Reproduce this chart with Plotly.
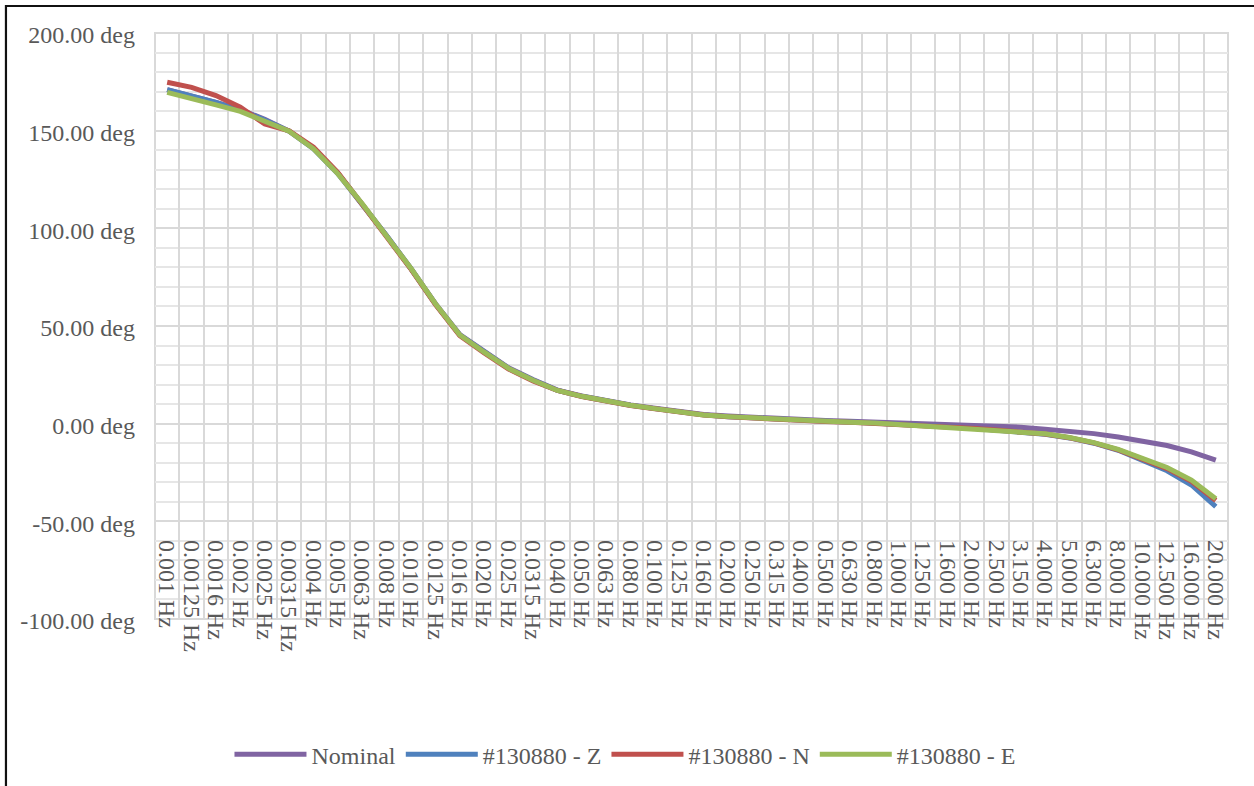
import plotly.graph_objects as go

FREQ_LABELS = [
    "0.001 Hz", "0.00125 Hz", "0.0016 Hz", "0.002 Hz", "0.0025 Hz", "0.00315 Hz",
    "0.004 Hz", "0.005 Hz", "0.0063 Hz", "0.008 Hz", "0.010 Hz", "0.0125 Hz",
    "0.016 Hz", "0.020 Hz", "0.025 Hz", "0.0315 Hz", "0.040 Hz", "0.050 Hz",
    "0.063 Hz", "0.080 Hz", "0.100 Hz", "0.125 Hz", "0.160 Hz", "0.200 Hz",
    "0.250 Hz", "0.315 Hz", "0.400 Hz", "0.500 Hz", "0.630 Hz", "0.800 Hz",
    "1.000 Hz", "1.250 Hz", "1.600 Hz", "2.000 Hz", "2.500 Hz", "3.150 Hz",
    "4.000 Hz", "5.000 Hz", "6.300 Hz", "8.000 Hz", "10.000 Hz", "12.500 Hz",
    "16.000 Hz", "20.000 Hz",
]

NOMINAL = [171.0, 168.0, 164.5, 160.8, 155.8, 149.8, 140.9, 128.3, 112.6, 96.2,
           79.3, 61.4, 45.6, 36.8, 28.6, 22.6, 17.2, 14.2, 11.8, 9.6,
           7.9, 6.3, 4.7, 3.9, 3.2, 2.6, 2.1, 1.6, 1.2, 0.8,
           0.5, 0.3, 0.0, -0.4, -1.0, -1.8, -2.9, -3.9, -5.1, -6.8,
           -8.8, -11.2, -14.4, -18.7]

SERIES_Z = [171.0, 168.0, 164.5, 160.6, 155.5, 149.7, 140.7, 128.0, 112.5, 96.2,
            79.3, 61.3, 45.4, 36.6, 28.3, 22.3, 17.1, 14.0, 11.6, 9.4,
            7.7, 6.1, 4.5, 3.6, 2.9, 2.2, 1.7, 1.2, 0.8, 0.3,
            -0.5, -1.0, -1.6, -2.4, -3.3, -4.3, -5.4, -7.3, -10.0, -13.6,
            -18.6, -24.1, -31.4, -42.5]

SERIES_N = [174.8, 172.2, 168.0, 162.0, 153.4, 149.9, 141.5, 128.5, 112.2, 95.8,
            79.0, 61.0, 45.0, 36.2, 28.0, 21.9, 17.0, 13.9, 11.5, 9.3,
            7.6, 6.0, 4.4, 3.5, 2.8, 2.1, 1.6, 1.1, 0.7, 0.2,
            -0.5, -1.0, -1.6, -2.4, -3.3, -4.3, -5.3, -7.2, -9.8, -13.4,
            -18.0, -23.0, -29.5, -39.3]

SERIES_E = [169.6, 166.7, 163.2, 159.9, 154.8, 149.7, 140.7, 127.9, 112.6, 96.3,
            79.4, 61.4, 45.4, 36.6, 28.3, 22.2, 17.0, 14.0, 11.6, 9.4,
            7.7, 6.1, 4.4, 3.6, 2.9, 2.2, 1.7, 1.2, 0.7, 0.3,
            -0.5, -1.0, -1.5, -2.3, -3.2, -4.2, -5.2, -7.1, -9.7, -13.2,
            -17.8, -22.4, -28.9, -38.4]

SERIES_NAMES = ["Nominal", "#130880 - Z", "#130880 - N", "#130880 - E"]
SERIES_COLORS = ["#8064A2", "#4F81BD", "#C0504D", "#9BBB59"]

Y_TICK_VALS = [-100, -50, 0, 50, 100, 150, 200]
Y_TICK_TEXT = ["-100.00 deg", "-50.00 deg", "0.00 deg", "50.00 deg",
               "100.00 deg", "150.00 deg", "200.00 deg"]

FONT = "Liberation Serif, Times New Roman, serif"
TEXT_COLOR = "#595959"
FS = 24

fig = go.Figure()
for name, vals, color in zip(SERIES_NAMES, [NOMINAL, SERIES_Z, SERIES_N, SERIES_E], SERIES_COLORS):
    fig.add_trace(go.Scatter(
        x=FREQ_LABELS, y=vals, name=name, mode="lines",
        line=dict(color=color, width=5),
    ))

fig.update_layout(
    width=1254, height=786,
    margin=dict(l=155, r=26, t=33, b=167, autoexpand=False),
    paper_bgcolor="white", plot_bgcolor="white",
    font=dict(family=FONT, size=FS, color=TEXT_COLOR),
    showlegend=True,
    legend=dict(orientation="h", x=0.438, xanchor="center", y=-0.2315, yanchor="middle",
                itemwidth=72,
                font=dict(family=FONT, size=FS, color=TEXT_COLOR)),
    xaxis=dict(
        type="category", range=[-0.5, len(FREQ_LABELS) - 0.5],
        tickmode="linear", tick0=0, dtick=1, automargin=False,
        tickson="boundaries", showgrid=True, gridcolor="#D9D9D9", gridwidth=2,
        tickangle=90, ticks="", showline=False, zeroline=False,
        ticklabelstandoff=-80,
        tickfont=dict(family=FONT, size=FS, color=TEXT_COLOR),
    ),
    yaxis=dict(
        range=[-100, 200], tickmode="array", tickvals=Y_TICK_VALS, ticktext=Y_TICK_TEXT,
        showgrid=True, gridcolor="#D9D9D9", gridwidth=2, zeroline=False, showline=False,
        ticks="", ticklabelstandoff=19, ticklabelshift=2, automargin=False,
        tickfont=dict(family=FONT, size=FS, color=TEXT_COLOR),
        minor=dict(tickmode="linear", tick0=0, dtick=10, showgrid=True,
                   gridcolor="#E6E6E6", gridwidth=2),
    ),
    shapes=[
        dict(type="rect", xref="paper", yref="paper", x0=0, x1=1, y0=0, y1=1,
             line=dict(color="#D9D9D9", width=2), layer="below"),
        dict(type="rect", xref="paper", yref="paper", x0=-0.1389, x1=1.04,
             y0=-0.32, y1=1.0461, line=dict(color="#111111", width=2.2), layer="above"),
    ],
)

fig.write_html("out.html", config={"displayModeBar": False},
               post_script="document.body.style.margin='0';")
